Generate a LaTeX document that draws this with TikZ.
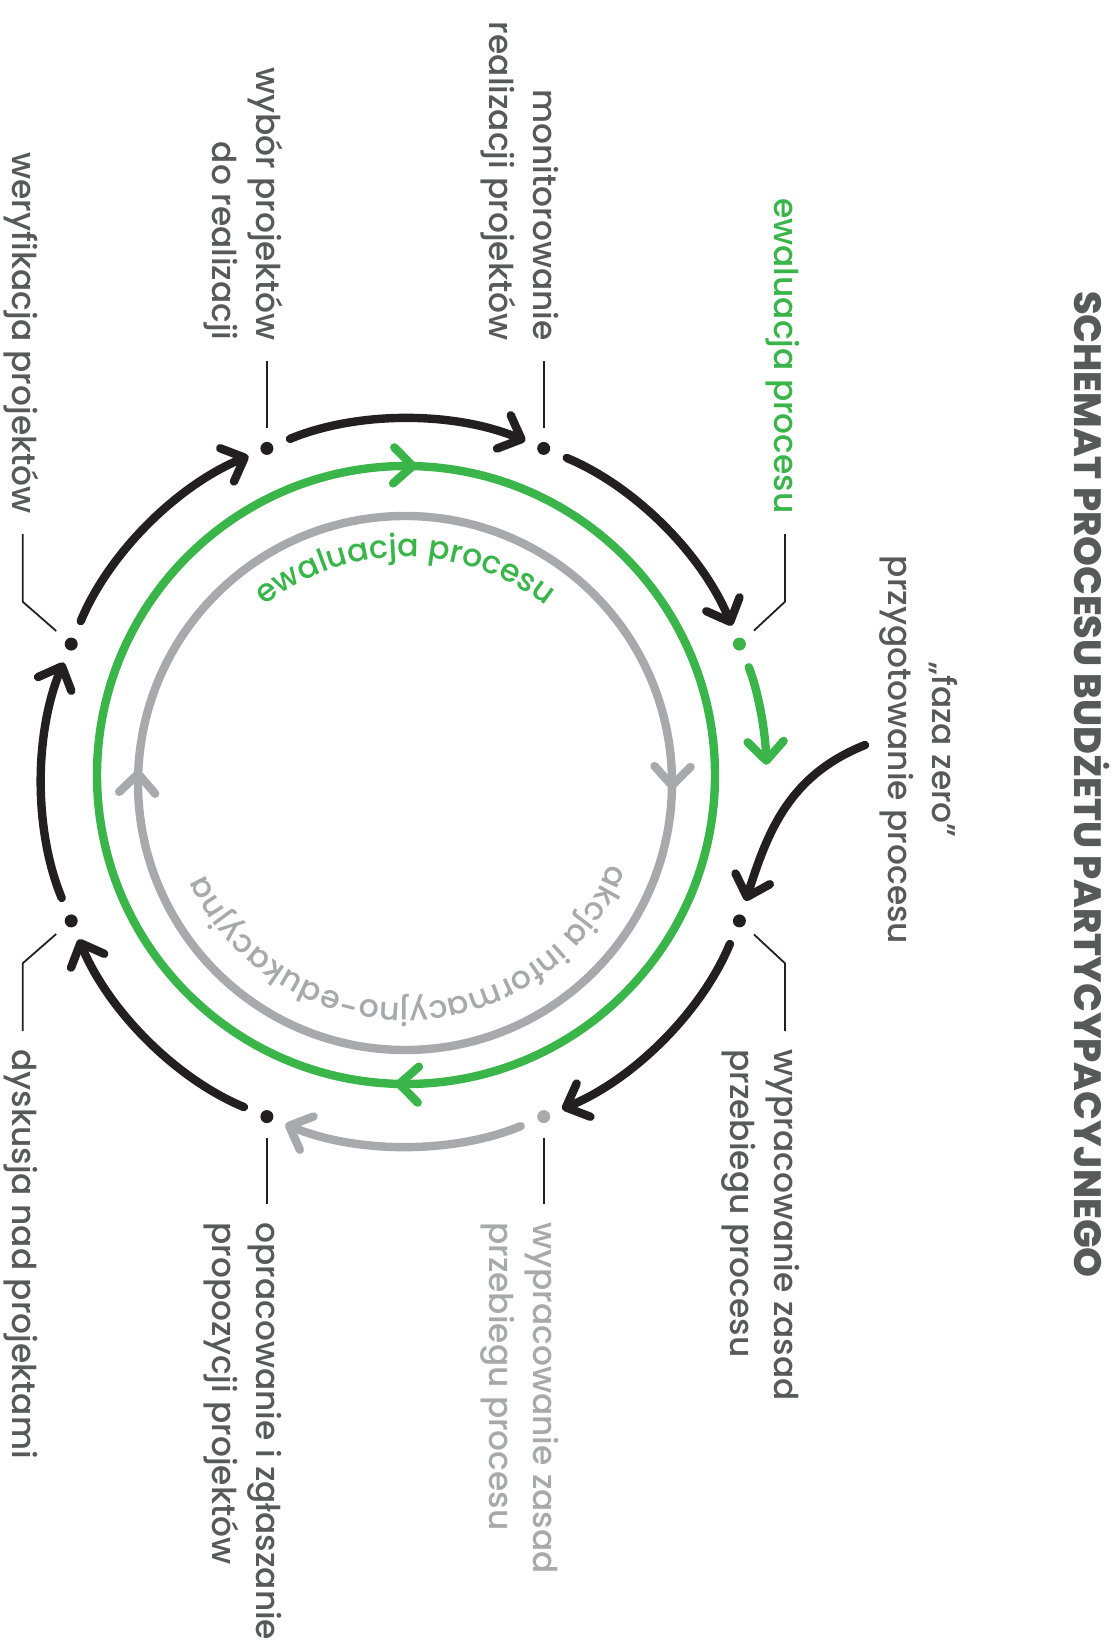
\documentclass[tikz,border=0pt]{standalone}
\usepackage{fontspec}
\setmainfont{Poppins}
\IfFontExistsTF{Poppins Medium}{\newfontfamily\lblfamily{Poppins Medium}}{\newfontfamily\lblfamily{Poppins}[FakeBold=0.4]}
\IfFontExistsTF{Poppins ExtraBold}{\newfontfamily\titlefamily{Poppins ExtraBold}}{\newcommand{\titlefamily}{\bfseries}}
\usetikzlibrary{arrows.meta,decorations.text,decorations.markings}

\definecolor{inkblack}{HTML}{231F20}
\definecolor{txtgray}{HTML}{58595B}
\definecolor{evgreen}{HTML}{39B54A}
\definecolor{lightgray}{HTML}{A7A9AC}
\newcommand{\ringfont}{\lblfamily\fontsize{15.8pt}{18pt}\selectfont}

\begin{document}
\begin{tikzpicture}[x=0.5pt, y=-0.5pt,
    chevron/.tip={Straight Barb[round, length=9.5pt, width=18pt]},
    dot/.style={circle, fill=inkblack, inner sep=0pt, minimum size=6.5pt},
    flow/.style={line width=4.2pt, line cap=round, inkblack, -chevron, shorten <=9pt, shorten >=6.5pt},
    ring/.style={line width=4.2pt},
    leader/.style={line width=0.9pt, inkblack},
    lbl/.style={rotate=-90, inner sep=0pt, txtgray, font=\lblfamily\fontsize{16.4pt}{22pt}\selectfont}]

    \useasboundingbox (0,0) rectangle (1116,1647);

    % rings
    \draw[ring, evgreen, postaction={decorate}, decoration={markings,
        mark=at position 0.2556 with {\arrow{chevron}},
        mark=at position 0.7556 with {\arrow{chevron}}}]
        (715,775) arc[start angle=0, end angle=360, radius=309];
    \draw[ring, lightgray, postaction={decorate}, decoration={markings,
        mark=at position 0.004 with {\arrow{chevron}},
        mark=at position 0.508 with {\arrow{chevron}}}]
        (672,783) arc[start angle=0, end angle=360, radius=267];

    \path[decorate, decoration={text along path, text align=center,
        text={|\ringfont\color{evgreen}|ewaluacja procesu}}]
        (179,783) arc[start angle=180, end angle=360, radius=226];
    \path[decorate, decoration={text along path, text align=center,
        text={|\ringfont\color{lightgray}|akcja informacyjno-edukacyjna}}]
        (624.9,777.2) arc[start angle=-1.5, end angle=178.5, radius=220];

    % stages
    \node[dot] (wery) at (71.2,644.1) {};
    \node[dot] (wybor) at (266.9,448.4) {};
    \node[dot] (monit) at (543.7,448.4) {};
    \node[dot, fill=evgreen] (ewal) at (739.4,644.1) {};
    \node[dot] (wzasad) at (739.4,920.9) {};
    \node[dot, fill=lightgray] (gzasad) at (543.7,1116.6) {};
    \node[dot] (oprac) at (266.9,1116.6) {};
    \node[dot] (dysk) at (71.2,920.9) {};

    \coordinate (ewalend) at (766.5,764.8);
    \coordinate (fazaout) at (865,745);

    \draw[flow] (wery) to[bend left=22.5, looseness=0.88] (wybor);
    \draw[flow] (wybor) to[bend left=22.5, looseness=0.88] (monit);
    \draw[flow] (monit) to[bend left=22.5, looseness=0.88] (ewal);
    \draw[flow, evgreen, shorten >=0pt] (ewal) to[bend left=9.85, looseness=0.86] (ewalend);
    \draw[flow, shorten <=0pt, shorten >=7pt] (fazaout) .. controls (790,775) and (768,830) .. (wzasad);
    \draw[flow] (wzasad) to[bend left=22.5, looseness=0.88] (gzasad);
    \draw[flow, lightgray] (gzasad) to[bend left=22.5, looseness=0.88] (oprac);
    \draw[flow] (oprac) to[bend left=22.5, looseness=0.88] (dysk);
    \draw[flow] (dysk) to[bend left=22.5, looseness=0.88] (wery);

    % leaders
    \coordinate (weryK) at (22.7,601.7);
    \coordinate (weryL) at (22.7,534);
    \coordinate (wyborL) at (266.9,361);
    \coordinate (monitL) at (543.7,361);
    \coordinate (ewalK) at (785,601.7);
    \coordinate (ewalL) at (785,534);
    \coordinate (wzasadK) at (785,963.3);
    \coordinate (wzasadL) at (785,1031);
    \coordinate (gzasadL) at (543.7,1204);
    \coordinate (opracL) at (266.9,1204);
    \coordinate (dyskK) at (22.7,963.3);
    \coordinate (dyskL) at (22.7,1031);

    \draw[leader, shorten <=6.5pt] (wery) -- (weryK) -- (weryL);
    \draw[leader, shorten <=7pt] (wybor) -- (wyborL);
    \draw[leader, shorten <=7pt] (monit) -- (monitL);
    \draw[leader, shorten <=6.5pt] (ewal) -- (ewalK) -- (ewalL);
    \draw[leader, shorten <=6.5pt] (wzasad) -- (wzasadK) -- (wzasadL);
    \draw[leader, shorten <=7pt] (gzasad) -- (gzasadL);
    \draw[leader, shorten <=7pt] (oprac) -- (opracL);
    \draw[leader, shorten <=6.5pt] (dysk) -- (dyskK) -- (dyskL);

    % labels
    \node[lbl, anchor=base east] (weryT) at ([xshift=-5.25pt, yshift=10pt]weryL) {weryfikacja projektów};
    \node[lbl, anchor=base east, align=right] (wyborT) at ([xshift=-27.25pt, yshift=10pt]wyborL) {wybór projektów\\do realizacji};
    \node[lbl, anchor=base east, align=right] (monitT) at ([xshift=-27.25pt, yshift=10pt]monitL) {monitorowanie\\realizacji projektów};
    \node[lbl, anchor=base east, evgreen] (ewalT) at ([xshift=-5.25pt, yshift=10pt]ewalL) {ewaluacja procesu};
    \node[lbl, anchor=base west, align=left] (wzasadT) at ([xshift=-27.25pt, yshift=-9pt]wzasadL) {wypracowanie zasad\\przebiegu procesu};
    \node[lbl, anchor=base west, align=left, lightgray] (gzasadT) at ([xshift=-27.25pt, yshift=-9pt]gzasadL) {wypracowanie zasad\\przebiegu procesu};
    \node[lbl, anchor=base west, align=left] (opracT) at ([xshift=-27.25pt, yshift=-9pt]opracL) {opracowanie i zgłaszanie\\propozycji projektów};
    \node[lbl, anchor=base west] (dyskT) at ([xshift=-5.25pt, yshift=-9pt]dyskL) {dyskusja nad projektami};
    \node[lbl, anchor=base, align=center] (faza) at (888.5,750) {„faza zero”\\przygotowanie procesu};

    \node[rotate=-90, anchor=base, inner sep=0pt, txtgray, font=\titlefamily\fontsize{19pt}{23pt}\selectfont] (tytul) at (1074,784.5) {SCHEMAT PROCESU BUDŻETU PARTYCYPACYJNEGO};

\end{tikzpicture}
\end{document}
